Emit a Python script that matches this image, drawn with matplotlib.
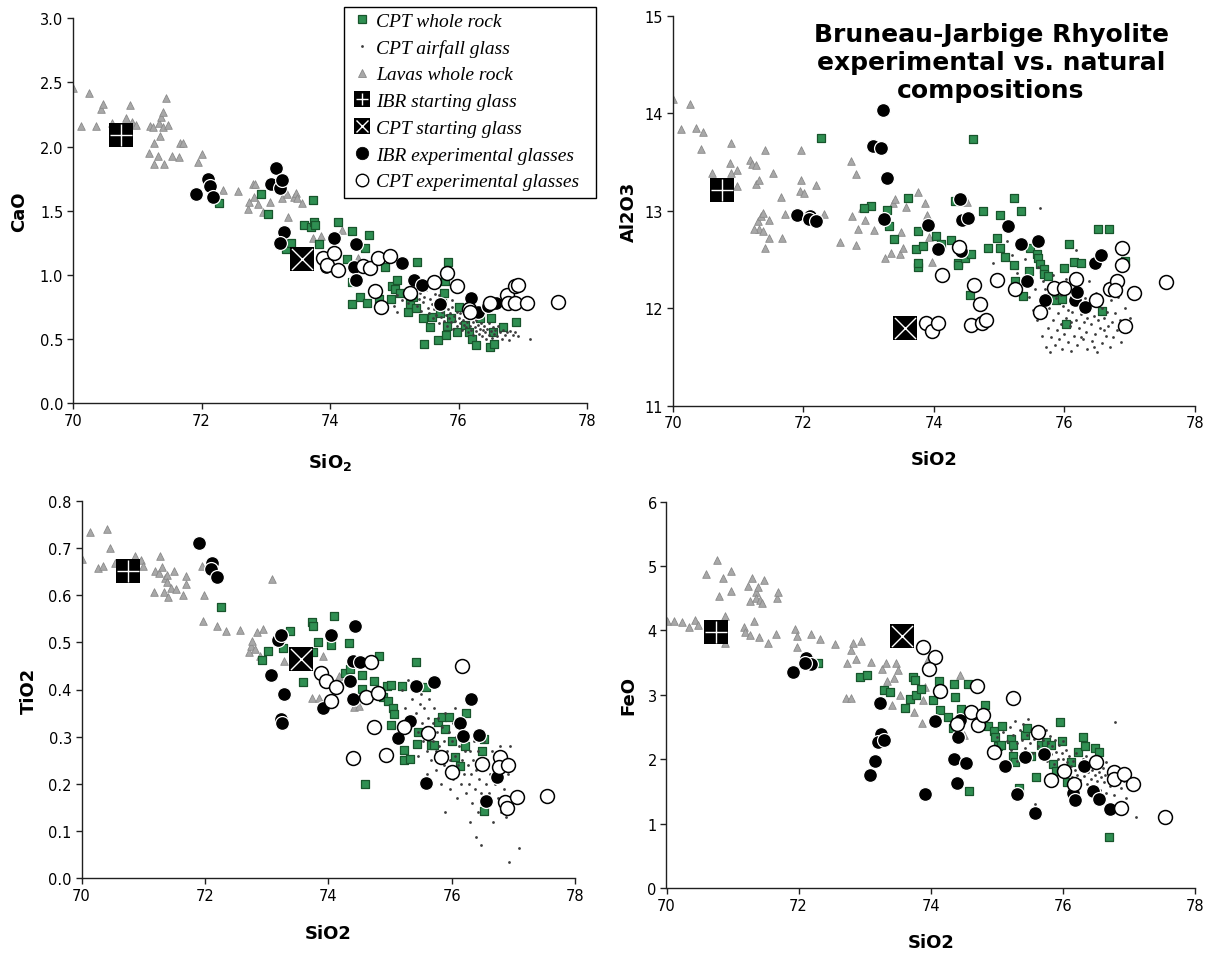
import matplotlib
matplotlib.use("Agg")
import matplotlib.pyplot as plt
from matplotlib.lines import Line2D
from matplotlib.patches import Rectangle
from matplotlib.font_manager import FontProperties

# ---------------------------------------------------------------- data
# starting glasses (same analyses in every panel)
ibr_start_sio2 = 70.75
ibr_start = {"CaO": 2.09, "Al2O3": 13.21, "TiO2": 0.652, "FeO": 3.97}
cpt_start_sio2 = 73.56
cpt_start = {"CaO": 1.12, "Al2O3": 11.80, "TiO2": 0.465, "FeO": 3.92}

# ---- CaO
cao_lava_sio2 = [70.00, 70.13, 70.25, 70.36, 70.44, 70.47, 70.60, 70.83, 70.89, 70.92, 70.98, 71.18,
                 71.20, 71.24, 71.26, 71.26, 71.33, 71.35, 71.34, 71.37, 71.40, 71.41, 71.40, 71.45,
                 71.48, 71.54, 71.65, 71.67, 71.71, 71.95, 72.00, 72.10, 72.33, 72.57, 72.72, 72.74,
                 72.80, 72.83, 72.82, 72.88, 72.95, 73.07, 73.25, 73.33, 73.35, 73.44, 73.47, 73.48,
                 73.56, 73.74, 73.86, 74.19, 74.44]
cao_lava = [2.46, 2.16, 2.42, 2.16, 2.29, 2.33, 2.18, 2.22, 2.32, 2.19, 2.17, 1.95,
            2.16, 2.15, 2.03, 1.86, 1.93, 2.08, 2.18, 2.23, 2.27, 1.86, 2.15, 2.38,
            2.17, 1.93, 1.92, 2.03, 2.03, 1.88, 1.94, 1.70, 1.66, 1.65, 1.51, 1.57,
            1.71, 1.71, 1.61, 1.55, 1.49, 1.57, 1.60, 1.63, 1.45, 1.61, 1.64, 1.60,
            1.56, 1.29, 1.30, 1.35, 1.13]
cao_wr_sio2 = [72.27, 72.93, 73.03, 73.31, 73.39, 73.60, 73.70, 73.75, 73.74, 73.76, 73.83, 74.13,
               74.27, 74.35, 74.55, 74.60, 74.35, 74.46, 74.57, 74.34, 74.76, 74.86, 74.95, 74.96,
               75.01, 75.05, 75.09, 75.22, 75.24, 75.29, 75.34, 75.35, 75.45, 75.46, 75.56, 75.59,
               75.68, 75.71, 75.74, 75.77, 75.80, 75.82, 75.83, 75.79, 75.89, 75.98, 76.01, 76.10,
               76.17, 76.21, 76.28, 76.34, 76.49, 76.55, 76.51, 76.53, 76.69, 76.89]
cao_wr = [1.56, 1.63, 1.47, 1.20, 1.25, 1.39, 1.37, 1.41, 1.58, 1.39, 1.24, 1.41,
          1.12, 1.34, 1.21, 1.31, 0.77, 0.83, 0.78, 0.94, 0.81, 1.06, 0.81, 0.91,
          0.89, 0.96, 0.86, 0.71, 0.77, 0.83, 0.74, 1.10, 0.66, 0.46, 0.59, 0.67,
          0.49, 0.70, 0.78, 0.86, 0.53, 0.60, 1.10, 0.95, 0.66, 0.55, 0.75, 0.61,
          0.55, 0.50, 0.45, 0.66, 0.44, 0.46, 0.66, 0.55, 0.59, 0.63]
cao_glass_sio2 = [75.00, 75.05, 75.12, 75.18, 75.22, 75.28, 75.32, 75.35, 75.38, 75.40, 75.42, 75.45,
                  75.47, 75.50, 75.52, 75.54, 75.56, 75.58, 75.60, 75.62, 75.63, 75.65, 75.67, 75.69,
                  75.70, 75.72, 75.74, 75.75, 75.77, 75.78, 75.80, 75.82, 75.83, 75.85, 75.87, 75.88,
                  75.90, 75.92, 75.93, 75.95, 75.97, 75.98, 76.00, 76.02, 76.03, 76.05, 76.07, 76.08,
                  76.10, 76.12, 76.13, 76.15, 76.17, 76.18, 76.20, 76.22, 76.23, 76.25, 76.27, 76.28,
                  76.30, 76.32, 76.33, 76.35, 76.37, 76.38, 76.40, 76.42, 76.43, 76.45, 76.47, 76.48,
                  76.50, 76.52, 76.53, 76.55, 76.57, 76.60, 76.62, 76.65, 76.67, 76.70, 76.72, 76.75,
                  76.78, 76.80, 76.85, 76.88, 76.92, 77.12, 75.05, 74.88, 76.10, 76.35, 75.70, 75.90]
cao_glass = [0.76, 0.84, 0.80, 0.88, 0.78, 0.84, 0.90, 0.76, 0.81, 0.86, 0.72, 0.79,
             0.83, 0.88, 0.74, 0.70, 0.81, 0.77, 0.66, 0.73, 0.85, 0.69, 0.78, 0.62,
             0.74, 0.67, 0.81, 0.71, 0.64, 0.76, 0.69, 0.60, 0.73, 0.66, 0.70, 0.63,
             0.75, 0.58, 0.68, 0.64, 0.71, 0.60, 0.66, 0.62, 0.70, 0.57, 0.65, 0.61,
             0.68, 0.59, 0.63, 0.55, 0.66, 0.60, 0.57, 0.63, 0.53, 0.59, 0.65, 0.56,
             0.61, 0.54, 0.58, 0.62, 0.52, 0.57, 0.60, 0.55, 0.50, 0.58, 0.53, 0.62,
             0.56, 0.51, 0.59, 0.54, 0.57, 0.52, 0.60, 0.55, 0.50, 0.57, 0.53, 0.55,
             0.49, 0.56, 0.53, 0.55, 0.52, 0.50, 0.71, 0.73, 0.72, 0.66, 0.84, 0.80]
cao_ibr_sio2 = [71.92, 72.10, 72.13, 72.18, 73.08, 73.16, 73.22, 73.26, 73.28, 73.22, 73.94, 74.06,
                74.37, 74.41, 74.40, 74.55, 75.12, 75.31, 75.43, 75.71, 76.19, 76.30, 76.46, 76.58]
cao_ibr = [1.63, 1.75, 1.69, 1.61, 1.71, 1.83, 1.68, 1.74, 1.33, 1.25, 1.06, 1.29,
           1.06, 0.96, 1.24, 1.07, 1.09, 0.96, 0.92, 0.77, 0.82, 0.71, 0.76, 0.78]
cao_cpt_sio2 = [73.89, 73.96, 74.06, 74.13, 74.52, 74.62, 74.70, 74.74, 74.79, 74.94, 75.24, 75.62,
                75.82, 75.98, 76.16, 76.18, 76.49, 76.76, 76.77, 76.88, 76.93, 76.88, 77.06, 77.55]
cao_cpt = [1.13, 1.08, 1.17, 1.04, 1.07, 1.05, 0.87, 1.13, 0.75, 1.15, 0.86, 0.94,
           1.01, 0.91, 0.73, 0.71, 0.78, 0.84, 0.78, 0.91, 0.92, 0.78, 0.78, 0.79]

# ---- Al2O3
al_lava_sio2 = [70.01, 70.13, 70.26, 70.35, 70.43, 70.46, 70.60, 70.88, 70.90, 70.89, 70.99, 70.98,
                71.18, 71.21, 71.27, 71.28, 71.30, 71.32, 71.32, 71.25, 71.35, 71.38, 71.39, 71.41,
                71.42, 71.47, 71.48, 71.54, 71.66, 71.68, 71.72, 71.97, 71.97, 71.95, 72.01, 72.19,
                72.32, 72.56, 72.73, 72.74, 72.81, 72.80, 72.84, 72.90, 72.94, 73.09, 73.25, 73.34,
                73.37, 73.41, 73.48, 73.49, 73.53, 73.57, 73.75, 73.87, 73.90, 73.93, 73.97, 74.51]
al_lava = [14.15, 13.84, 14.09, 13.85, 13.63, 13.81, 13.39, 13.49, 13.69, 13.39, 13.42, 13.25,
           13.52, 13.48, 13.27, 13.47, 12.89, 13.32, 12.81, 12.81, 12.95, 12.98, 12.79, 12.62,
           13.62, 12.72, 12.90, 13.39, 13.14, 12.72, 12.97, 13.62, 13.31, 13.20, 13.18, 13.26,
           12.97, 12.68, 13.51, 12.95, 13.38, 12.65, 12.81, 13.03, 12.90, 12.80, 12.51, 12.57,
           13.08, 13.12, 12.56, 12.78, 12.62, 13.04, 13.19, 13.08, 12.96, 12.73, 12.47, 13.09]
al_wr_sio2 = [72.27, 73.03, 72.93, 73.28, 73.31, 73.39, 73.61, 73.73, 73.75, 73.75, 73.76, 73.84,
              74.04, 74.11, 74.26, 74.33, 74.37, 74.37, 74.48, 74.57, 74.60, 74.56, 74.75, 74.83,
              74.97, 75.02, 75.01, 75.09, 75.22, 75.22, 75.25, 75.34, 75.37, 75.46, 75.47, 75.58,
              75.60, 75.63, 75.68, 75.69, 75.75, 75.84, 75.87, 75.96, 75.99, 76.02, 76.07, 76.15,
              76.25, 76.52, 76.69, 76.57, 76.93]
al_wr = [13.75, 13.05, 13.03, 13.01, 12.84, 12.71, 13.13, 12.61, 12.79, 12.42, 12.46, 12.64,
         12.74, 12.66, 12.70, 13.10, 12.46, 12.44, 12.51, 12.56, 13.74, 12.14, 13.00, 12.62,
         12.72, 12.96, 12.62, 12.53, 13.13, 12.44, 12.28, 13.00, 12.13, 12.38, 12.62, 12.56,
         12.52, 12.45, 12.40, 12.35, 12.33, 12.18, 12.08, 12.09, 12.41, 11.84, 12.66, 12.47,
         12.46, 12.81, 12.81, 11.97, 12.48]
al_glass_sio2 = [74.90, 75.05, 75.12, 75.20, 75.28, 75.35, 75.40, 75.45, 75.48, 75.52, 75.55, 75.58,
                 75.60, 75.62, 75.63, 75.65, 75.67, 75.70, 75.72, 75.73, 75.75, 75.77, 75.78, 75.80,
                 75.82, 75.83, 75.85, 75.87, 75.88, 75.90, 75.92, 75.93, 75.95, 75.97, 75.98, 76.00,
                 76.02, 76.03, 76.05, 76.07, 76.08, 76.10, 76.12, 76.13, 76.15, 76.17, 76.18, 76.20,
                 76.22, 76.23, 76.25, 76.27, 76.28, 76.30, 76.32, 76.33, 76.35, 76.37, 76.38, 76.40,
                 76.42, 76.43, 76.45, 76.47, 76.48, 76.50, 76.52, 76.53, 76.55, 76.57, 76.58, 76.60,
                 76.62, 76.63, 76.65, 76.67, 76.70, 76.72, 76.73, 76.75, 76.78, 76.80, 76.82, 76.85,
                 76.87, 76.90, 76.93, 76.95, 77.00, 76.05, 75.95, 76.35, 76.15, 75.85, 76.60, 76.25,
                 75.70, 76.45, 76.10]
al_glass = [12.46, 12.30, 12.69, 12.55, 12.36, 12.25, 12.50, 12.12, 12.30, 11.98, 12.20, 11.88,
            12.42, 13.03, 12.05, 11.72, 12.28, 11.92, 11.60, 12.15, 11.80, 12.00, 11.55, 11.70,
            12.34, 11.88, 11.62, 12.10, 11.78, 11.95, 11.68, 12.22, 11.84, 11.58, 12.02, 11.74,
            11.90, 12.30, 11.65, 12.08, 11.82, 11.56, 11.96, 12.15, 11.72, 11.88, 12.60, 11.62,
            12.04, 11.80, 11.94, 12.20, 11.68, 11.86, 12.10, 11.76, 11.58, 11.98, 12.28, 11.84,
            11.66, 12.05, 11.92, 11.74, 12.16, 11.55, 11.88, 12.52, 11.80, 12.00, 11.64, 11.90,
            12.24, 11.72, 11.96, 11.82, 11.60, 12.08, 11.86, 11.70, 11.95, 11.78, 12.12, 11.88,
            11.65, 11.84, 12.00, 11.76, 11.90, 11.98, 12.14, 11.90, 12.36, 12.26, 11.78, 11.70,
            12.20, 11.60, 11.86]
al_ibr_sio2 = [73.22, 73.07, 73.19, 73.29, 73.24, 71.91, 72.10, 72.09, 72.20, 73.91, 74.07, 74.40,
               74.43, 74.53, 74.41, 75.14, 75.33, 75.43, 75.59, 75.71, 76.16, 76.20, 76.32, 76.47,
               76.56]
al_ibr = [14.03, 13.66, 13.64, 13.34, 12.91, 12.96, 12.95, 12.92, 12.89, 12.85, 12.61, 13.12,
          12.90, 12.93, 12.59, 12.84, 12.66, 12.28, 12.69, 12.08, 12.08, 12.17, 12.01, 12.46,
          12.55]
al_cpt_sio2 = [73.88, 73.97, 74.07, 74.13, 74.38, 74.57, 74.62, 74.71, 74.74, 74.80, 74.96, 75.25,
               75.63, 75.84, 76.00, 76.17, 76.49, 76.70, 76.80, 76.78, 76.88, 76.88, 76.93, 77.06,
               77.55]
al_cpt = [11.85, 11.77, 11.85, 12.34, 12.63, 11.83, 12.24, 12.04, 11.85, 11.88, 12.29, 12.20,
          11.96, 12.21, 12.21, 12.30, 12.08, 12.20, 12.28, 12.19, 12.62, 12.44, 11.82, 12.16,
          12.27]

# ---- TiO2
ti_lava_sio2 = [70.00, 70.14, 70.27, 70.35, 70.42, 70.47, 70.55, 70.87, 70.97, 70.99, 71.17, 71.19,
                71.25, 71.27, 71.30, 71.33, 71.36, 71.38, 71.39, 71.41, 71.45, 71.50, 71.53, 71.64,
                71.69, 71.70, 71.95, 71.99, 71.97, 72.19, 72.34, 72.57, 72.72, 72.74, 72.77, 72.81,
                72.84, 72.89, 72.95, 73.09, 73.28, 73.74, 73.85, 73.91, 74.17, 74.41, 74.50]
ti_lava = [0.677, 0.733, 0.657, 0.662, 0.740, 0.699, 0.667, 0.682, 0.675, 0.661, 0.607, 0.652,
           0.646, 0.682, 0.660, 0.607, 0.636, 0.643, 0.627, 0.597, 0.614, 0.652, 0.612, 0.600,
           0.624, 0.641, 0.661, 0.600, 0.546, 0.534, 0.523, 0.526, 0.480, 0.492, 0.502, 0.486,
           0.521, 0.472, 0.528, 0.634, 0.461, 0.383, 0.383, 0.470, 0.429, 0.362, 0.366]
ti_wr_sio2 = [72.26, 72.93, 73.02, 73.27, 73.38, 73.59, 73.73, 73.76, 73.76, 73.83, 74.05, 74.10,
              74.27, 74.34, 74.36, 74.55, 74.55, 74.60, 74.74, 74.82, 74.89, 74.95, 74.97, 75.02,
              75.02, 75.05, 75.07, 75.14, 75.20, 75.22, 75.23, 75.33, 75.43, 75.44, 75.46, 75.58,
              75.63, 75.66, 75.72, 75.78, 75.84, 75.89, 75.95, 76.01, 76.06, 76.14, 76.23, 76.22,
              76.50, 76.53, 76.52]
ti_wr = [0.574, 0.463, 0.482, 0.488, 0.523, 0.415, 0.542, 0.534, 0.480, 0.500, 0.494, 0.555,
         0.434, 0.499, 0.443, 0.431, 0.402, 0.200, 0.417, 0.472, 0.384, 0.408, 0.376, 0.410,
         0.325, 0.360, 0.348, 0.299, 0.408, 0.272, 0.251, 0.253, 0.458, 0.285, 0.309, 0.405,
         0.309, 0.283, 0.282, 0.331, 0.341, 0.316, 0.341, 0.290, 0.256, 0.237, 0.350, 0.281,
         0.270, 0.295, 0.143]
ti_glass_sio2 = [75.20, 75.25, 75.30, 75.35, 75.38, 75.40, 75.42, 75.45, 75.48, 75.50, 75.52, 75.54,
                 75.56, 75.58, 75.60, 75.62, 75.63, 75.65, 75.67, 75.69, 75.70, 75.72, 75.74, 75.75,
                 75.77, 75.78, 75.80, 75.82, 75.83, 75.85, 75.87, 75.88, 75.90, 75.92, 75.93, 75.95,
                 75.97, 75.98, 76.00, 76.02, 76.03, 76.05, 76.07, 76.08, 76.10, 76.12, 76.13, 76.15,
                 76.17, 76.18, 76.20, 76.22, 76.23, 76.25, 76.27, 76.28, 76.30, 76.32, 76.33, 76.35,
                 76.37, 76.38, 76.40, 76.42, 76.43, 76.45, 76.47, 76.48, 76.50, 76.52, 76.53, 76.55,
                 76.57, 76.60, 76.62, 76.65, 76.67, 76.70, 76.72, 76.75, 76.78, 76.80, 76.85, 76.88,
                 76.92, 76.95, 77.00, 76.40, 76.47, 76.93, 77.09, 75.90, 76.05, 75.60, 76.30, 76.80,
                 75.45]
ti_glass = [0.40, 0.36, 0.42, 0.38, 0.33, 0.40, 0.35, 0.31, 0.37, 0.39, 0.33, 0.29,
            0.36, 0.32, 0.27, 0.34, 0.38, 0.30, 0.25, 0.33, 0.29, 0.36, 0.27, 0.23,
            0.31, 0.34, 0.28, 0.20, 0.26, 0.32, 0.24, 0.29, 0.35, 0.22, 0.27, 0.31,
            0.19, 0.25, 0.29, 0.33, 0.21, 0.26, 0.30, 0.17, 0.24, 0.28, 0.32, 0.20,
            0.25, 0.29, 0.22, 0.27, 0.18, 0.31, 0.24, 0.20, 0.27, 0.22, 0.16, 0.25,
            0.29, 0.19, 0.23, 0.27, 0.14, 0.21, 0.25, 0.18, 0.23, 0.29, 0.16, 0.20,
            0.25, 0.18, 0.22, 0.27, 0.12, 0.20, 0.24, 0.17, 0.28, 0.21, 0.19, 0.13,
            0.22, 0.28, 0.17, 0.087, 0.071, 0.035, 0.064, 0.14, 0.36, 0.22, 0.12, 0.14,
            0.26]
ti_ibr_sio2 = [71.91, 72.11, 72.10, 72.19, 73.07, 73.18, 73.23, 73.28, 73.23, 73.25, 73.91, 74.05,
               74.36, 74.40, 74.40, 74.44, 74.52, 75.13, 75.33, 75.43, 75.58, 75.71, 76.14, 76.19,
               76.31, 76.45, 76.55, 76.73]
ti_ibr = [0.710, 0.667, 0.655, 0.638, 0.431, 0.504, 0.516, 0.390, 0.338, 0.329, 0.360, 0.516,
          0.417, 0.380, 0.461, 0.534, 0.458, 0.297, 0.333, 0.408, 0.202, 0.415, 0.329, 0.302,
          0.379, 0.304, 0.163, 0.214]
ti_cpt_sio2 = [73.89, 73.96, 74.13, 74.05, 74.40, 74.61, 74.69, 74.80, 74.74, 74.94, 75.23, 75.61,
               75.83, 76.00, 76.17, 76.50, 76.78, 76.76, 76.92, 76.87, 76.89, 77.06, 77.54]
ti_cpt = [0.436, 0.417, 0.406, 0.376, 0.255, 0.385, 0.458, 0.393, 0.320, 0.261, 0.320, 0.307,
          0.256, 0.226, 0.449, 0.242, 0.258, 0.235, 0.241, 0.161, 0.150, 0.172, 0.174]

# ---- FeO
fe_lava_sio2 = [70.00, 70.12, 70.24, 70.34, 70.43, 70.47, 70.60, 70.76, 70.80, 70.86, 70.88, 70.88,
                70.98, 70.98, 71.17, 71.19, 71.23, 71.26, 71.27, 71.30, 71.32, 71.36, 71.38, 71.36,
                71.40, 71.41, 71.45, 71.48, 71.53, 71.65, 71.68, 71.69, 71.94, 71.97, 71.98, 72.18,
                72.32, 72.55, 72.73, 72.71, 72.79, 72.79, 72.82, 72.87, 72.95, 73.09, 73.26, 73.33,
                73.34, 73.41, 73.45, 73.48, 73.51, 73.54, 73.74, 73.87, 73.88, 73.92, 73.96, 74.44,
                74.51]
fe_lava = [4.14, 4.14, 4.13, 4.06, 4.16, 4.08, 4.88, 5.10, 4.54, 4.82, 4.22, 3.81,
           4.92, 4.62, 4.06, 3.97, 4.69, 3.93, 4.45, 4.82, 4.15, 4.59, 4.68, 4.51,
           3.90, 4.47, 4.43, 4.79, 3.81, 3.94, 4.51, 4.59, 4.03, 3.92, 3.74, 3.94,
           3.87, 3.79, 3.49, 2.95, 2.95, 3.69, 3.81, 3.55, 3.83, 3.51, 3.40, 3.50,
           3.22, 2.84, 3.26, 3.49, 3.39, 2.99, 2.73, 2.56, 2.92, 3.12, 3.56, 3.31,
           2.37]
fe_wr_sio2 = [72.29, 72.93, 73.03, 73.29, 73.38, 73.61, 73.69, 73.73, 73.76, 73.77, 73.85, 74.04,
              74.12, 74.14, 74.26, 74.34, 74.35, 74.37, 74.46, 74.57, 74.58, 74.82, 74.87, 74.96,
              74.98, 75.02, 75.07, 75.08, 75.22, 75.24, 75.25, 75.28, 75.34, 75.42, 75.45, 75.52,
              75.60, 75.67, 75.75, 75.82, 75.85, 75.89, 75.96, 75.99, 76.06, 76.13, 76.23, 76.30,
              76.33, 76.49, 76.55, 76.70]
fe_wr = [3.49, 3.27, 3.31, 3.07, 3.05, 2.79, 2.93, 3.28, 3.23, 3.00, 3.09, 2.92,
         3.21, 2.77, 2.65, 2.49, 3.17, 2.97, 2.78, 3.17, 1.50, 2.84, 2.51, 2.44,
         2.34, 2.21, 2.22, 2.51, 2.32, 2.22, 2.05, 1.95, 1.56, 2.37, 2.49, 2.05,
         1.72, 2.22, 2.26, 2.22, 1.93, 1.82, 2.58, 2.29, 1.65, 1.95, 2.11, 2.34,
         2.21, 2.18, 2.12, 0.79]
fe_glass_sio2 = [74.95, 75.00, 75.05, 75.10, 75.15, 75.20, 75.22, 75.25, 75.28, 75.30, 75.33, 75.35,
                 75.38, 75.40, 75.42, 75.45, 75.47, 75.50, 75.52, 75.55, 75.57, 75.60, 75.62, 75.65,
                 75.67, 75.70, 75.72, 75.74, 75.76, 75.78, 75.80, 75.82, 75.84, 75.86, 75.88, 75.90,
                 75.92, 75.94, 75.96, 75.98, 76.00, 76.02, 76.04, 76.06, 76.08, 76.10, 76.12, 76.14,
                 76.16, 76.18, 76.20, 76.22, 76.24, 76.26, 76.28, 76.30, 76.32, 76.34, 76.36, 76.38,
                 76.40, 76.42, 76.44, 76.46, 76.48, 76.50, 76.52, 76.54, 76.56, 76.58, 76.60, 76.62,
                 76.64, 76.66, 76.68, 76.70, 76.72, 76.75, 76.78, 76.80, 76.85, 76.88, 76.92, 76.96,
                 77.11, 76.79, 76.20, 75.58, 76.00, 76.35, 75.45, 76.65, 75.85, 76.50, 76.10, 75.30,
                 76.90]
fe_glass = [2.20, 2.35, 2.10, 2.42, 2.28, 2.50, 2.15, 2.38, 2.60, 2.25, 2.05, 2.45,
            2.30, 2.55, 2.18, 2.38, 2.62, 2.25, 2.45, 2.10, 2.32, 2.50, 2.20, 2.40,
            2.05, 2.30, 2.15, 2.45, 1.98, 2.25, 2.36, 2.08, 2.20, 1.92, 2.30, 2.12,
            2.00, 2.22, 1.88, 2.10, 2.00, 1.82, 2.15, 1.95, 1.78, 2.05, 1.90, 1.72,
            1.98, 1.84, 2.10, 1.76, 1.92, 1.68, 1.85, 2.00, 1.74, 1.88, 1.62, 1.80,
            1.95, 1.70, 1.84, 1.58, 1.76, 1.90, 1.66, 1.80, 1.52, 1.72, 1.86, 1.64,
            1.76, 1.48, 1.68, 1.80, 1.58, 1.72, 1.44, 1.62, 1.74, 1.55, 1.66, 1.40,
            1.10, 2.58, 1.45, 1.30, 2.28, 2.05, 2.00, 1.95, 1.60, 1.40, 1.62, 1.98,
            1.85]
fe_ibr_sio2 = [71.92, 72.11, 72.18, 72.10, 73.08, 73.16, 73.23, 73.24, 73.20, 73.29, 73.92, 74.06,
               74.35, 74.40, 74.41, 74.45, 74.54, 75.13, 75.31, 75.42, 75.58, 75.71, 76.15, 76.18,
               76.32, 76.46, 76.54, 76.72]
fe_ibr = [3.36, 3.57, 3.48, 3.49, 1.76, 1.98, 2.87, 2.39, 2.26, 2.30, 1.46, 2.60,
          2.00, 1.63, 2.34, 2.61, 1.94, 1.90, 1.46, 2.03, 1.16, 2.08, 1.48, 1.36,
          1.90, 1.51, 1.39, 1.23]
fe_cpt_sio2 = [73.89, 74.06, 73.97, 74.14, 74.40, 74.61, 74.70, 74.72, 74.79, 74.95, 75.24, 75.62,
               75.82, 76.01, 76.17, 76.50, 76.78, 76.78, 76.88, 76.93, 77.06, 77.55]
fe_cpt = [3.74, 3.59, 3.40, 3.06, 2.55, 2.74, 3.14, 2.53, 2.69, 2.12, 2.95, 2.42,
          1.68, 1.82, 1.61, 1.96, 1.80, 1.69, 1.25, 1.77, 1.61, 1.11]

legend_labels = ["CPT whole rock", "CPT airfall glass", "Lavas whole rock",
                 "IBR starting glass", "CPT starting glass",
                 "IBR experimental glasses", "CPT experimental glasses"]

# ---------------------------------------------------------------- style
GREEN_FACE = "#2f8f52"
GREEN_EDGE = "#18552c"
TRI_FACE = "#a8a8a8"
TRI_EDGE = "#8a8a8a"
DOT = "#3c3c3c"

plt.rcParams["font.family"] = ["DejaVu Sans"]
W, H = 1213, 954
fig = plt.figure(figsize=(W / 100, H / 100), dpi=100)


def px_axes(x0, x1, y0, y1):
    """Axes placed by pixel box (x0..x1, y0..y1 measured from top-left)."""
    return fig.add_axes([x0 / W, 1 - y1 / H, (x1 - x0) / W, (y1 - y0) / H])


def draw_panel(ax, key, lava, wr, glass, ibr, cpt, ylim, yticks, yfmt,
               ylabel, xlabel, ylab_x, xlab_y):
    ax.scatter(*lava, marker="^", s=30, c=TRI_FACE, edgecolors=TRI_EDGE,
               linewidths=0.6, zorder=2)
    ax.scatter(*wr, marker="s", s=30, c=GREEN_FACE, edgecolors=GREEN_EDGE,
               linewidths=0.9, zorder=3)
    ax.scatter(*glass, marker="o", s=4, c=DOT, linewidths=0, zorder=4)
    ax.scatter(*ibr, marker="o", s=100, c="black", edgecolors="white",
               linewidths=0.9, zorder=5)
    ax.scatter(*cpt, marker="o", s=100, c="white", edgecolors="black",
               linewidths=1.1, zorder=6)
    # starting glasses: black square with white cross / diagonal cross
    ax.scatter([ibr_start_sio2], [ibr_start[key]], marker="s", s=300, c="black",
               linewidths=0, zorder=7)
    ax.scatter([ibr_start_sio2], [ibr_start[key]], marker="+", s=230, c="white",
               linewidths=1.0, zorder=8)
    ax.scatter([cpt_start_sio2], [cpt_start[key]], marker="s", s=300, c="black",
               linewidths=0, zorder=7)
    ax.scatter([cpt_start_sio2], [cpt_start[key]], marker="x", s=230, c="white",
               linewidths=1.0, zorder=8)

    ax.set_xlim(70, 78)
    ax.set_xticks([70, 72, 74, 76, 78])
    ax.set_ylim(*ylim)
    ax.set_yticks(yticks)
    ax.set_yticklabels([yfmt.format(v) for v in yticks])
    for side in ("top", "right"):
        ax.spines[side].set_visible(False)
    for side in ("left", "bottom"):
        ax.spines[side].set_color("#202020")
        ax.spines[side].set_linewidth(1.0)
    ax.tick_params(direction="out", length=4, width=1.0, color="#202020",
                   labelsize=10.5, labelcolor="black", pad=3)
    ax.set_ylabel(ylabel, fontsize=13, fontweight="bold", va="center")
    ax.set_xlabel(xlabel, fontsize=13, fontweight="bold", va="center")
    ax.yaxis.set_label_coords(ylab_x, 0.5)
    ax.xaxis.set_label_coords(0.5, xlab_y)
    ax.patch.set_alpha(0)


ax1 = px_axes(73, 587, 19.3, 404)
draw_panel(ax1, "CaO", (cao_lava_sio2, cao_lava), (cao_wr_sio2, cao_wr),
           (cao_glass_sio2, cao_glass), (cao_ibr_sio2, cao_ibr), (cao_cpt_sio2, cao_cpt),
           (0, 3.0), [0.0, 0.5, 1.0, 1.5, 2.0, 2.5, 3.0], "{:.1f}",
           "CaO", r"SiO$_\mathbf{2}$", -0.105, -0.151)

ax2 = px_axes(672.7, 1195, 16.7, 406.7)
draw_panel(ax2, "Al2O3", (al_lava_sio2, al_lava), (al_wr_sio2, al_wr),
           (al_glass_sio2, al_glass), (al_ibr_sio2, al_ibr), (al_cpt_sio2, al_cpt),
           (11, 15), [11, 12, 13, 14, 15], "{:.0f}",
           "Al2O3", "SiO2", -0.084, -0.137)

ax3 = px_axes(81.5, 575, 501.7, 879.3)
draw_panel(ax3, "TiO2", (ti_lava_sio2, ti_lava), (ti_wr_sio2, ti_wr),
           (ti_glass_sio2, ti_glass), (ti_ibr_sio2, ti_ibr), (ti_cpt_sio2, ti_cpt),
           (0, 0.8), [0.0, 0.1, 0.2, 0.3, 0.4, 0.5, 0.6, 0.7, 0.8], "{:.1f}",
           "TiO2", "SiO2", -0.106, -0.145)

ax4 = px_axes(666.5, 1195, 502.7, 889)
draw_panel(ax4, "FeO", (fe_lava_sio2, fe_lava), (fe_wr_sio2, fe_wr),
           (fe_glass_sio2, fe_glass), (fe_ibr_sio2, fe_ibr), (fe_cpt_sio2, fe_cpt),
           (0, 6), [0, 1, 2, 3, 4, 5, 6], "{:.0f}",
           "FeO", "SiO2", -0.072, -0.14)

# title in the Al2O3 panel
fig.text(991 / W, 1 - 63 / H,
         "Bruneau-Jarbige Rhyolite\nexperimental vs. natural\ncompositions",
         ha="center", va="center", fontsize=18, fontweight="bold",
         linespacing=1.22)

# legend: entries without frame, box drawn as a figure rectangle
handles = [
    Line2D([], [], ls="none", marker="s", ms=6, mfc=GREEN_FACE, mec=GREEN_EDGE, mew=0.9),
    Line2D([], [], ls="none", marker="o", ms=2, mfc=DOT, mec=DOT, mew=0),
    Line2D([], [], ls="none", marker="^", ms=6, mfc=TRI_FACE, mec=TRI_EDGE, mew=0.6),
    (Line2D([], [], ls="none", marker="s", ms=11, mfc="black", mec="black", mew=0),
     Line2D([], [], ls="none", marker="+", ms=9, mec="white", mew=1.0)),
    (Line2D([], [], ls="none", marker="s", ms=11, mfc="black", mec="black", mew=0),
     Line2D([], [], ls="none", marker="x", ms=9, mec="white", mew=1.0)),
    Line2D([], [], ls="none", marker="o", ms=9, mfc="black", mec="black", mew=0.5),
    Line2D([], [], ls="none", marker="o", ms=9, mfc="white", mec="black", mew=1.0),
]
fig.patches.append(Rectangle((344 / W, 1 - 199 / H), (596 - 344) / W, (199 - 8) / H,
                             transform=fig.transFigure, facecolor="white",
                             edgecolor="black", linewidth=1.0, zorder=9))
leg = fig.legend(handles, legend_labels, loc="upper left",
                 bbox_to_anchor=(353 / W, 1 - 13 / H), borderaxespad=0,
                 prop=FontProperties(family="Liberation Serif", style="italic", size=14),
                 frameon=False, borderpad=0, labelspacing=0.47, handlelength=0.9,
                 handletextpad=0.3)
leg.set_zorder(10)

fig.savefig("out.png", dpi=100)
